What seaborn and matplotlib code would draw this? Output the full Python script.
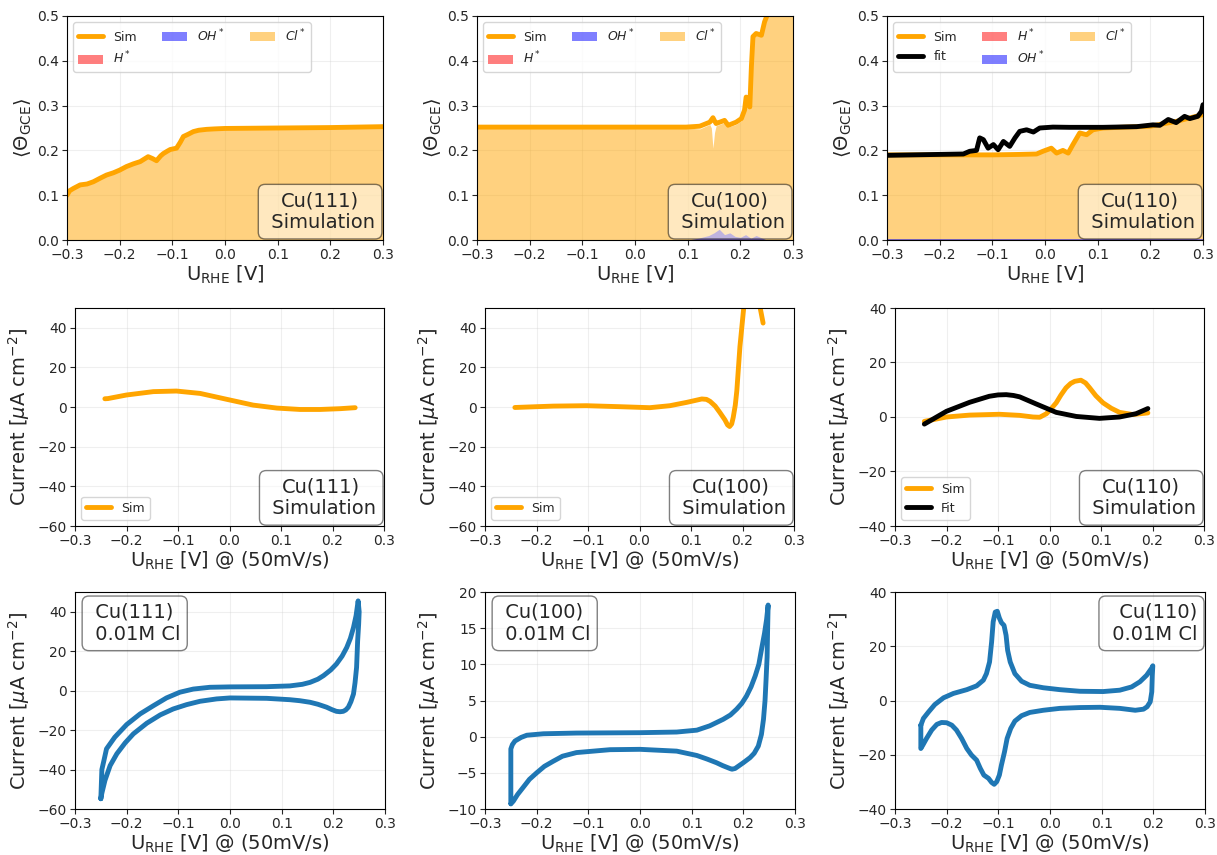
import matplotlib
matplotlib.use("Agg")
import matplotlib.pyplot as plt
import seaborn as sns
from matplotlib.patches import Patch
from matplotlib.lines import Line2D

# ---- coverage (top row) ----
v_111 = [-0.3, -0.295, -0.288, -0.275, -0.262, -0.25, -0.237, -0.225, -0.212, -0.2, -0.187,
         -0.174, -0.161, -0.146, -0.138, -0.13, -0.122, -0.117, -0.11, -0.104, -0.092,
         -0.085, -0.079, -0.07, -0.06, -0.05, -0.035, -0.02, 0.0, 0.1, 0.2, 0.3]
sim_111 = [0.100, 0.110, 0.115, 0.123, 0.125, 0.130, 0.138, 0.145, 0.150, 0.156, 0.164,
           0.170, 0.175, 0.186, 0.182, 0.177, 0.188, 0.193, 0.198, 0.202, 0.205,
           0.218, 0.231, 0.236, 0.242, 0.245, 0.247, 0.248, 0.249, 0.250, 0.251, 0.253]
cl_111 = sim_111
h_111 = [0.0] * len(v_111)
oh_111 = [0.0] * len(v_111)

v_100 = [-0.3, 0.097, 0.123, 0.142, 0.145, 0.148, 0.151, 0.154, 0.17, 0.177, 0.192,
         0.202, 0.208, 0.211, 0.218, 0.221, 0.224, 0.23, 0.24, 0.246, 0.252, 0.3]
sim_100 = [0.252, 0.252, 0.254, 0.263, 0.268, 0.273, 0.266, 0.26, 0.267, 0.256, 0.263,
           0.271, 0.29, 0.319, 0.297, 0.387, 0.454, 0.461, 0.457, 0.487, 0.505, 0.505]
cl_100 = [0.252, 0.250, 0.248, 0.258, 0.250, 0.205, 0.240, 0.255, 0.262, 0.252, 0.258,
          0.266, 0.285, 0.315, 0.292, 0.385, 0.452, 0.459, 0.455, 0.485, 0.505, 0.505]
v_oh_100 = [-0.3, 0.1, 0.12, 0.14, 0.15, 0.16, 0.17, 0.18, 0.19, 0.2, 0.21, 0.22,
            0.23, 0.24, 0.25, 0.3]
oh_100 = [0.0, 0.0, 0.004, 0.01, 0.016, 0.024, 0.012, 0.016, 0.008, 0.006, 0.012,
          0.004, 0.01, 0.005, 0.0, 0.0]
h_100 = [0.0] * len(v_oh_100)

v_110 = [-0.3, -0.15, -0.1, -0.05, -0.016, -0.004, 0.012, 0.022, 0.034, 0.044, 0.053,
         0.066, 0.079, 0.091, 0.11, 0.142, 0.2, 0.25, 0.3]
sim_110 = [0.19, 0.19, 0.19, 0.191, 0.192, 0.198, 0.205, 0.194, 0.2, 0.194, 0.213,
           0.239, 0.235, 0.246, 0.25, 0.2515, 0.254, 0.265, 0.28]
cl_110 = sim_110
oh_110 = [0.002] * len(v_110)
h_110 = [0.0] * len(v_110)
v_fit_110 = [-0.3, -0.155, -0.143, -0.13, -0.124, -0.117, -0.108, -0.098, -0.089, -0.079,
             -0.067, -0.057, -0.048, -0.035, -0.022, -0.01, 0.015, 0.047, 0.11, 0.174,
             0.205, 0.218, 0.234, 0.249, 0.265, 0.275, 0.29, 0.297, 0.3]
fit_110 = [0.189, 0.192, 0.198, 0.2, 0.228, 0.224, 0.205, 0.213, 0.2015, 0.22,
           0.209, 0.228, 0.2425, 0.246, 0.241, 0.25, 0.252, 0.2515, 0.2515, 0.253,
           0.257, 0.256, 0.269, 0.262, 0.276, 0.271, 0.276, 0.287, 0.302]

# ---- simulated currents (middle row) ----
v_cur_111 = [-0.242, -0.236, -0.2, -0.148, -0.103, -0.057, -0.005, 0.046, 0.092, 0.137, 0.176, 0.215, 0.244]
i_cur_111 = [4.2, 4.3, 6.1, 7.8, 8.1, 6.9, 3.9, 1.0, -0.5, -1.2, -1.2, -0.8, -0.3]

v_cur_100 = [-0.242, -0.2, -0.167, -0.103, -0.038, 0.02, 0.059, 0.092, 0.121, 0.13, 0.137, 0.147, 0.156,
             0.166, 0.171, 0.175, 0.179, 0.182, 0.186, 0.189, 0.195, 0.202, 0.21, 0.218, 0.226, 0.234, 0.24]
i_cur_100 = [-0.2, 0.2, 0.5, 0.7, 0.2, -0.3, 0.7, 2.4, 4.1, 3.9, 2.9, 0.5, -2.7,
             -6.5, -9.0, -9.8, -8.5, -5.2, 1.0, 8.3, 30.5, 49.1, 70, 75, 62, 50.5, 42.4]

v_cur_110 = [-0.243, -0.2, -0.155, -0.097, -0.058, -0.032, -0.019, -0.006, 0.003, 0.013, 0.022,
             0.032, 0.041, 0.049, 0.061, 0.07, 0.078, 0.09, 0.104, 0.12, 0.136, 0.162, 0.191]
i_cur_110 = [-1.6, 0.0, 0.7, 1.0, 0.6, 0.0, -0.1, 1.2, 3.0, 5.2, 8.0,
             10.7, 12.3, 13.1, 13.5, 12.5, 10.7, 7.8, 5.2, 3.2, 1.7, 0.9, 1.5]
v_fit_cur_110 = [-0.243, -0.2, -0.155, -0.117, -0.1, -0.084, -0.07, -0.058, -0.026, 0.013, 0.052,
                 0.097, 0.136, 0.168, 0.191]
i_fit_cur_110 = [-2.6, 2.1, 5.4, 7.6, 8.1, 8.2, 7.9, 7.4, 4.8, 1.7, 0.2, -0.5, 0.0, 1.2, 3.1]

# ---- experimental CVs (bottom row) ----
v_cv_111 = [-0.25, -0.248, -0.244, -0.239, -0.223, -0.2, -0.174, -0.148, -0.123, -0.097,
            -0.071, -0.039, 0.0, 0.071, 0.116, 0.14, 0.155, 0.17, 0.181,
            0.195, 0.206, 0.217, 0.226, 0.233, 0.239, 0.244, 0.248, 0.25, 0.249, 0.247,
            0.245, 0.242, 0.239, 0.234, 0.229, 0.224, 0.219, 0.213, 0.206, 0.197, 0.187,
            0.17, 0.155, 0.135, 0.116, 0.071, 0.0, -0.026, -0.058, -0.084, -0.11, -0.135,
            -0.161, -0.187, -0.203, -0.219, -0.232, -0.242, -0.248, -0.25]
i_cv_111 = [-54.8, -40.0, -35.4, -29.5, -23.6, -17.2, -11.8, -7.6, -3.7, -0.8,
            0.8, 1.7, 1.9, 2.0, 2.4, 3.2, 4.2, 5.8, 7.6,
            10.5, 13.5, 17.5, 21.9, 26.5, 32.0, 38.0, 45.5, 40.0, 33.7, 25.0,
            11.8, 4.0, -1.7, -5.6, -8.4, -9.8, -10.5, -10.7, -10.5, -9.6, -8.4,
            -6.9, -5.9, -5.1, -4.6, -3.9, -3.7, -4.2, -5.4, -7.1, -9.3, -12.3,
            -16.5, -21.9, -26.5, -32.0, -38.0, -45.5, -52.0, -54.8]

v_cv_100 = [-0.25, -0.25, -0.247, -0.242, -0.23, -0.219, -0.187, -0.123, 0.0, 0.071, 0.11, 0.135,
            0.161, 0.175, 0.187, 0.197, 0.206, 0.215, 0.223, 0.23, 0.235, 0.241, 0.245, 0.248,
            0.247, 0.246, 0.244, 0.242, 0.239, 0.235, 0.229, 0.221, 0.213, 0.2, 0.184, 0.178,
            0.174, 0.16, 0.148, 0.13, 0.11, 0.071, 0.0, -0.058, -0.123, -0.15, -0.168, -0.185,
            -0.2, -0.214, -0.226, -0.237, -0.245, -0.25]
i_cv_100 = [-9.2, -1.7, -1.1, -0.6, -0.1, 0.2, 0.4, 0.5, 0.55, 0.64, 0.9, 1.5,
            2.4, 3.0, 3.8, 4.6, 5.6, 6.9, 8.4, 10.0, 12.0, 14.3, 16.2, 18.2,
            14.8, 11.0, 7.9, 5.0, 2.4, 0.3, -1.3, -2.3, -2.9, -3.6, -4.4, -4.5,
            -4.4, -4.0, -3.6, -3.1, -2.6, -2.0, -1.75, -1.8, -2.2, -2.7, -3.4, -4.1,
            -5.0, -5.9, -7.0, -8.0, -8.9, -9.3]

v_cv_110 = [-0.25, -0.245, -0.235, -0.223, -0.206, -0.187, -0.161, -0.142, -0.129, -0.123,
            -0.117, -0.113, -0.11, -0.106, -0.102, -0.098, -0.094, -0.089, -0.085, -0.082,
            -0.077, -0.068, -0.055, -0.039, -0.013, 0.019, 0.058, 0.103, 0.135, 0.158,
            0.174, 0.187, 0.197, 0.199, 0.198, 0.197, 0.194, 0.188, 0.181, 0.165, 0.135,
            0.097, 0.058, 0.019, -0.013, -0.039, -0.055, -0.068, -0.076, -0.083, -0.088,
            -0.094, -0.098, -0.103, -0.108, -0.113, -0.119, -0.128, -0.135, -0.142, -0.152,
            -0.161, -0.171, -0.181, -0.19, -0.2, -0.21, -0.219, -0.229, -0.239, -0.246,
            -0.25, -0.25, -0.25]
i_cv_110 = [-9.1, -6.6, -4.2, -1.5, 1.0, 2.6, 4.0, 5.4, 7.5, 9.9,
            14.2, 21.6, 29.0, 32.6, 32.9, 30.4, 28.7, 27.7, 24.0, 18.5,
            14.2, 9.9, 7.1, 5.6, 4.7, 4.0, 3.4, 3.3, 3.8, 5.0,
            6.9, 9.3, 12.0, 12.8, 9.3, 3.2, -0.5, -2.3, -3.2, -3.6, -2.9,
            -2.5, -2.6, -2.9, -3.6, -4.4, -5.6, -7.6, -10.3, -14.0, -18.9,
            -23.8, -27.5, -29.9, -30.9, -30.2, -28.7, -27.5, -25.0, -22.0, -20.1,
            -17.7, -14.0, -10.9, -9.1, -8.2, -8.1, -8.8, -10.9, -14.0, -16.4,
            -17.7, -13.4, -9.1]

xticks = [-0.3, -0.2, -0.1, 0.0, 0.1, 0.2, 0.3]
facets = ["Cu(111)", "Cu(100)", "Cu(110)"]

sns.set_style("ticks")
plt.rcParams["font.family"] = ["DejaVu Sans"]
ORANGE = "orange"
BLUE = "#1f77b4"

fig = plt.figure(figsize=(12.17, 8.55), dpi=100)
W, H = 1217, 855
def make_ax(x0, y_top, w, h):
    return fig.add_axes([x0 / W, (H - y_top - h) / H, w / W, h / H])

top_axes = [make_ax(x, 16, 316, 224) for x in (67, 477, 887)]
mid_axes = [make_ax(x, 308, 309, 218) for x in (75, 485, 895)]
bot_axes = [make_ax(x, 592, 310, 217) for x in (75, 485, 895)]

box = dict(boxstyle="round,pad=0.35", facecolor="white", edgecolor="black", alpha=0.5)
xlab2 = r"U$_{\rm RHE}$ [V] @ (50mV/s)"
ylab2 = r"Current [$\mu$A cm$^{-2}$]"

def patch(c, lab):
    return Patch(facecolor=c, edgecolor="none", alpha=0.5, label=lab)

# top row
cov = [
    (v_111, sim_111, cl_111, v_111, h_111, oh_111, None, None),
    (v_100, sim_100, cl_100, v_oh_100, h_100, oh_100, None, None),
    (v_110, sim_110, cl_110, v_110, h_110, oh_110, v_fit_110, fit_110),
]
for ax, name, (v, sim, cl, vo, hh, oh, vf, fit) in zip(top_axes, facets, cov):
    ax.fill_between(v, 0, cl, color=ORANGE, alpha=0.5, lw=0)
    ax.fill_between(vo, 0, hh, color="red", alpha=0.5, lw=0)
    ax.fill_between(vo, 0, oh, color="blue", alpha=0.5, lw=0)
    sns.lineplot(x=v, y=sim, ax=ax, color=ORANGE, lw=3.5, sort=False, estimator=None)
    handles = [Line2D([], [], color=ORANGE, lw=3.5, label="Sim")]
    if vf is not None:
        sns.lineplot(x=vf, y=fit, ax=ax, color="black", lw=3.5, sort=False, estimator=None)
        handles.append(Line2D([], [], color="black", lw=3.5, label="fit"))
    handles += [patch("red", r"$H^*$"), patch("blue", r"$OH^*$"), patch(ORANGE, r"$Cl^*$")]
    ax.legend(handles=handles, loc="upper left", ncol=3, fontsize=9)
    ax.set_xlim(-0.3, 0.3)
    ax.set_ylim(0, 0.5)
    ax.set_xticks(xticks)
    ax.set_xlabel(r"U$_{\rm RHE}$ [V]", fontsize=14, labelpad=1)
    ax.set_ylabel(r"$\langle\Theta_{\rm GCE}\rangle$", fontsize=14, labelpad=2)
    ax.text(0.975, 0.035, name + "\n Simulation", transform=ax.transAxes, ha="right",
            va="bottom", multialignment="center", fontsize=14, bbox=box)

# middle row
mid = [(v_cur_111, i_cur_111, None, None, (-60, 50)),
       (v_cur_100, i_cur_100, None, None, (-60, 50)),
       (v_cur_110, i_cur_110, v_fit_cur_110, i_fit_cur_110, (-40, 40))]
for ax, name, (v, i, vf, fi, yl) in zip(mid_axes, facets, mid):
    sns.lineplot(x=v, y=i, ax=ax, color=ORANGE, lw=3.5, sort=False, estimator=None)
    handles = [Line2D([], [], color=ORANGE, lw=3.5, label="Sim")]
    if vf is not None:
        sns.lineplot(x=vf, y=fi, ax=ax, color="black", lw=3.5, sort=False, estimator=None)
        handles.append(Line2D([], [], color="black", lw=3.5, label="Fit"))
    ax.legend(handles=handles, loc="lower left", fontsize=9)
    ax.set_xlim(-0.3, 0.3)
    ax.set_ylim(*yl)
    ax.set_xticks(xticks)
    ax.set_xlabel(xlab2, fontsize=14, labelpad=1)
    ax.set_ylabel(ylab2, fontsize=14)
    ax.text(0.975, 0.035, name + "\n Simulation", transform=ax.transAxes, ha="right",
            va="bottom", multialignment="center", fontsize=14, bbox=box)

# bottom row
bot = [(v_cv_111, i_cv_111, (-60, 50), "left"),
       (v_cv_100, i_cv_100, (-10, 20), "left"),
       (v_cv_110, i_cv_110, (-40, 40), "right")]
for ax, name, (v, i, yl, side) in zip(bot_axes, facets, bot):
    sns.lineplot(x=v, y=i, ax=ax, color=BLUE, lw=3.5, sort=False, estimator=None)
    ax.set_xlim(-0.3, 0.3)
    ax.set_ylim(*yl)
    ax.set_xticks(xticks)
    ax.set_xlabel(xlab2, fontsize=14, labelpad=1)
    ax.set_ylabel(ylab2, fontsize=14)
    if side == "left":
        ax.text(0.045, 0.95, " " + name + "\n 0.01M Cl", transform=ax.transAxes, ha="left",
                va="top", fontsize=14, bbox=box)
    else:
        ax.text(0.975, 0.95, " " + name + "\n 0.01M Cl", transform=ax.transAxes, ha="right",
                va="top", fontsize=14, bbox=box)

for ax in top_axes + mid_axes + bot_axes:
    ax.grid(True, alpha=0.3)
    ax.tick_params(labelsize=10, pad=2.5)
    for s in ax.spines.values():
        s.set_visible(True)
        s.set_color("black")

fig.savefig("out.png", dpi=100)
